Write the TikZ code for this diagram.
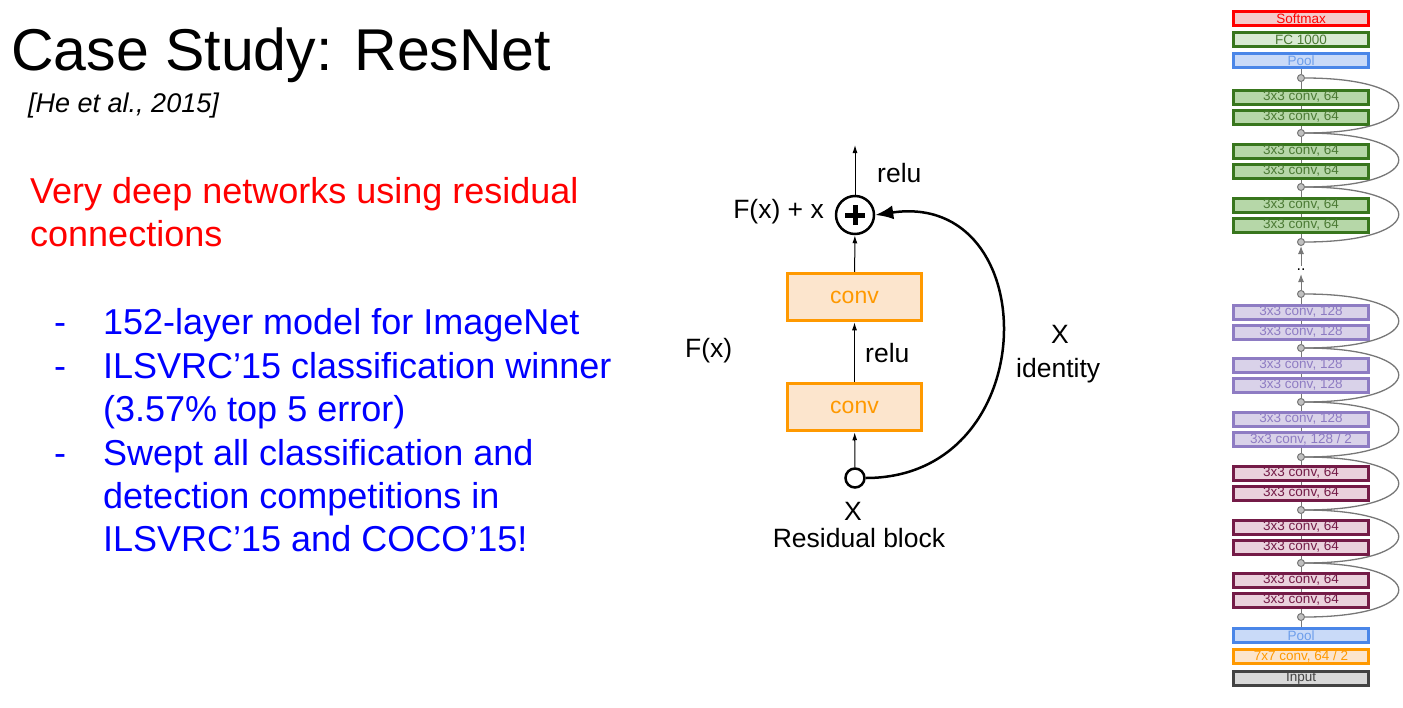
\documentclass[tikz,border=0pt]{standalone}
\usepackage{fontspec}
\setmainfont{Liberation Sans}
\usetikzlibrary{arrows.meta}
\definecolor{sred}{HTML}{FF0000}\definecolor{sredf}{HTML}{F4CCCC}
\definecolor{sgreen}{HTML}{38761D}\definecolor{sgreenf}{HTML}{B6D7A8}\definecolor{sgreenl}{HTML}{D9EAD3}\definecolor{sgreent}{HTML}{4B7A34}
\definecolor{sblue}{HTML}{4A86E8}\definecolor{sbluef}{HTML}{C9DAF8}\definecolor{sbluet}{HTML}{6D9EEB}
\definecolor{spurple}{HTML}{8E7CC3}\definecolor{spurplef}{HTML}{D9D2E9}
\definecolor{smaroon}{HTML}{741B47}\definecolor{smaroonf}{HTML}{EAD1DC}
\definecolor{sorange}{HTML}{FF9900}\definecolor{sorangef}{HTML}{FCE5CD}
\definecolor{sgrey}{HTML}{434343}\definecolor{sgreyf}{HTML}{D9D9D9}
\definecolor{wire}{HTML}{777777}\definecolor{dotfill}{HTML}{C0C0C0}
\definecolor{txtblue}{HTML}{0000FF}
\begin{document}
\begin{tikzpicture}[x=1pt,y=-1pt,
  txt/.style={anchor=base west,inner sep=0},
  big/.style={font=\fontsize{36}{43}\selectfont},
  lab/.style={inner sep=0,font=\fontsize{26.5}{31}\selectfont},
  convbox/.style={draw=sorange,fill=sorangef,line width=3.5,minimum width=134,minimum height=47,inner sep=0,text=sorange,font=\fontsize{23}{28}\selectfont},
  arr/.style={-{Latex[length=8,width=5]},line width=1},
  stackbox/.style={draw,line width=3,minimum width=135,minimum height=14,inner sep=0,font=\fontsize{13.5}{14}\selectfont},
  green/.style={stackbox,draw=sgreen,fill=sgreenf,text=sgreent},
  purple/.style={stackbox,draw=spurple,fill=spurplef,text=spurple},
  maroon/.style={stackbox,draw=smaroon,fill=smaroonf,text=smaroon},
  pool/.style={stackbox,draw=sblue,fill=sbluef,text=sbluet},
  junc/.style={circle,draw=wire,fill=dotfill,minimum size=7,inner sep=0,line width=1},
  wireline/.style={draw=wire,line width=1},
  skip/.style={draw=wire,line width=1.3},
  warr/.style={wireline,-{Latex[length=8,width=6]}}
]
\useasboundingbox (0,0) rectangle (1403,707);

% ---------- left text ----------
\node[txt,font=\fontsize{59}{72}\selectfont] (title) at (11,70) {Case Study: ResNet};
\node[txt,font=\fontsize{27}{32}\selectfont\itshape] (cite) at (28,112) {[He et al., 2015]};
\node[txt,big,text=sred] (r1) at (30,203) {Very deep networks using residual};
\node[txt,big,text=sred] (r2) at (30,246) {connections};
\foreach \y/\n in {334/d1,378/d2,465/d3}{\node[txt,big,text=txtblue] (\n) at (54,\y) {-};}
\node[txt,big,text=txtblue] (b1) at (103,334) {152-layer model for ImageNet};
\node[txt,big,text=txtblue] (b2) at (103,378) {ILSVRC’15 classification winner};
\node[txt,big,text=txtblue] (b3) at (103,421) {(3.57\% top 5 error)};
\node[txt,big,text=txtblue] (b4) at (103,465) {Swept all classification and};
\node[txt,big,text=txtblue] (b5) at (103,508) {detection competitions in};
\node[txt,big,text=txtblue] (b6) at (103,551) {ILSVRC’15 and COCO’15!};

% ---------- residual block ----------
\node[circle,draw,line width=2.5,minimum size=38,inner sep=0,
  path picture={\draw[line width=5] ([xshift=-10pt]path picture bounding box.center) -- ([xshift=10pt]path picture bounding box.center);
                \draw[line width=5] ([yshift=-10pt]path picture bounding box.center) -- ([yshift=10pt]path picture bounding box.center);}] (plus) at (855,215) {};
\coordinate (out) at (855,145);
\node[convbox] (conv2) at (854.5,297) {conv};
\node[convbox] (conv1) at (854.5,407) {conv};
\node[circle,draw,line width=2.5,minimum size=19,inner sep=0] (xin) at (855,478) {};
\draw[arr] (plus) -- (out);
\draw[arr] (conv2) -- (plus);
\draw[arr] (conv1) -- (conv2);
\draw[arr] (xin) -- (conv1);
\draw[line width=2.5,-{Latex[length=18,width=14]}] (xin.east) .. controls +(180,0) and +(170,-25) .. (plus.east);

\node[lab,anchor=base west] (relu1) at (877,182) {relu};
\node[lab,anchor=base west] (relu2) at (865,362) {relu};
\node[lab,anchor=base east] (fx1) at (824,218) {F(x) + x};
\node[lab,anchor=base west] (fx2) at (685,357) {F(x)};
\node[lab,anchor=base] (xr) at (1060,343) {X};
\node[lab,anchor=base west] (ident) at (1016,377) {identity};
\node[lab,anchor=base] (xb) at (853,520) {X};
\node[lab,anchor=base] (rb) at (859,547) {Residual block};

% ---------- ResNet stack ----------
\node[stackbox,draw=sred,fill=sredf,text=sred] (softmax) at (1301,18.5) {Softmax};
\node[stackbox,draw=sgreen,fill=sgreenl,text=sgreent] (fc) at (1301,39.5) {FC 1000};
\node[pool] (pooltop) at (1301,60.5) {Pool};

\foreach \n/\y in {g1a/97,g1b/117,g2a/151,g2b/171,g3a/205,g3b/225}{\node[green] (\n) at (1301,\y) {3x3 conv, 64};}
\node[purple] (p1a) at (1301,312) {3x3 conv, 128};
\node[purple] (p1b) at (1301,332) {3x3 conv, 128};
\node[purple] (p2a) at (1301,365) {3x3 conv, 128};
\node[purple] (p2b) at (1301,385) {3x3 conv, 128};
\node[purple] (p3a) at (1301,419) {3x3 conv, 128};
\node[purple] (p3b) at (1301,439) {3x3 conv, 128 / 2};
\foreach \n/\y in {m1a/473,m1b/493,m2a/527,m2b/547,m3a/580,m3b/600}{\node[maroon] (\n) at (1301,\y) {3x3 conv, 64};}
\node[pool] (poolbot) at (1301,635.5) {Pool};
\node[stackbox,draw=sorange,fill=sorangef,text=sorange] (conv7) at (1301,656.5) {7x7 conv, 64 / 2};
\node[stackbox,draw=sgrey,fill=sgreyf,text=sgrey] (input) at (1301,678.5) {Input};

\foreach \n/\y in {c1/78,c2/133,c3/187,c4/242,c5/294,c6/348,c7/402,c8/457,c9/510,c10/563,c11/617}{\node[junc] (\n) at (1301,\y) {};}
\node[inner sep=3,font=\fontsize{16}{16}\selectfont] (dots) at (1301,270) {..};

\foreach \a/\b in {pooltop/c1,c1/g1a,g1a/g1b,g1b/c2,c2/g2a,g2a/g2b,g2b/c3,c3/g3a,g3a/g3b,g3b/c4,
  c5/p1a,p1a/p1b,p1b/c6,c6/p2a,p2a/p2b,p2b/c7,c7/p3a,p3a/p3b,p3b/c8,
  c8/m1a,m1a/m1b,m1b/c9,c9/m2a,m2a/m2b,m2b/c10,c10/m3a,m3a/m3b,m3b/c11,c11/poolbot}{\draw[wireline] (\a) -- (\b);}
\draw[warr] (dots) -- (c4);
\draw[warr] (c5) -- (dots);
\foreach \a/\b in {c1/c2,c2/c3,c3/c4,c5/c6,c6/c7,c7/c8,c8/c9,c9/c10,c10/c11}{\draw[skip] (\a.east) .. controls +(125,0) and +(125,0) .. (\b.east);}
\end{tikzpicture}
\end{document}
